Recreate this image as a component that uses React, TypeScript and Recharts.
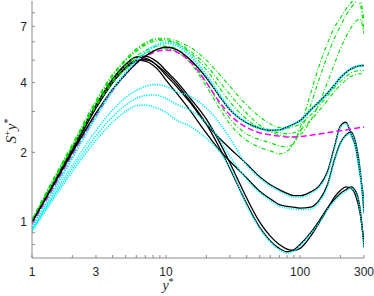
import { LineChart, Line, XAxis, YAxis } from 'recharts';

// y* sample positions (shared by every profile)
const yStar = [1, 1.5, 2, 3, 4, 5, 6, 7, 8, 9, 10, 12, 15, 20, 25, 30, 40, 50, 60, 70, 80, 90, 100, 120, 140, 160, 180, 200, 220, 240, 260, 280, 300];

// green dash-dot family
const g1 = [1.0, 1.55, 2.1, 3.15, 4.0, 4.6, 5.05, 5.35, 5.52, 5.6, 5.6, 5.45, 4.9, 3.85, 3.1, 2.65, 2.25, 2.1, 2.03, 1.97, 2.02, 2.2, 2.55, 3.6, 4.8, 5.9, 6.9, 7.6, 8.3, 8.85, 9.3, 8.8, 6.6];
const g2 = [1.01, 1.56, 2.1, 3.2, 4.1, 4.75, 5.2, 5.5, 5.68, 5.75, 5.75, 5.6, 5.05, 4.0, 3.25, 2.8, 2.4, 2.27, 2.2, 2.13, 2.11, 2.2, 2.45, 3.2, 4.2, 5.2, 6.2, 7.0, 7.8, 8.4, 8.9, 9.1, 7.4];
const g3 = [1.02, 1.58, 2.13, 3.28, 4.25, 4.95, 5.45, 5.8, 6.0, 6.07, 6.05, 5.9, 5.4, 4.55, 3.8, 3.3, 2.78, 2.55, 2.45, 2.38, 2.34, 2.33, 2.38, 2.75, 3.3, 4.0, 4.8, 5.6, 6.3, 6.9, 7.35, 7.5, 6.5];
const g4 = [1.02, 1.59, 2.15, 3.3, 4.3, 5.0, 5.52, 5.88, 6.08, 6.15, 6.12, 5.95, 5.5, 4.75, 4.05, 3.55, 2.95, 2.62, 2.48, 2.43, 2.41, 2.43, 2.5, 2.75, 3.05, 3.35, 3.65, 3.9, 4.1, 4.25, 4.33, 4.37, 4.36];
const g5 = [1.03, 1.6, 2.17, 3.35, 4.35, 5.05, 5.6, 5.95, 6.15, 6.22, 6.2, 6.05, 5.7, 5.0, 4.35, 3.85, 3.2, 2.85, 2.65, 2.56, 2.55, 2.58, 2.65, 2.9, 3.2, 3.5, 3.8, 4.05, 4.25, 4.4, 4.48, 4.52, 4.5];

// black solid family
const l1 = [1.0, 1.52, 2.05, 3.12, 4.0, 4.6, 4.95, 5.02, 4.9, 4.6, 4.3, 3.85, 3.3, 2.65, 2.3, 2.08, 1.78, 1.57, 1.45, 1.38, 1.33, 1.3, 1.3, 1.35, 1.44, 1.65, 2.1, 2.6, 2.7, 2.4, 2.1, 1.62, 1.25];
const l2 = [1.0, 1.51, 2.03, 3.1, 4.0, 4.65, 5.0, 4.95, 4.75, 4.45, 4.1, 3.6, 3.05, 2.42, 2.05, 1.83, 1.55, 1.36, 1.26, 1.19, 1.17, 1.16, 1.15, 1.16, 1.25, 1.45, 1.85, 2.2, 2.38, 2.45, 2.2, 1.7, 1.1];
const l3 = [1.0, 1.53, 2.07, 3.18, 4.1, 4.75, 5.15, 5.2, 5.05, 4.8, 4.5, 4.05, 3.45, 2.78, 2.22, 1.8, 1.27, 1.0, 0.87, 0.8, 0.765, 0.755, 0.77, 0.87, 1.0, 1.14, 1.28, 1.37, 1.42, 1.4, 1.3, 1.1, 0.82];
const l4 = [1.0, 1.53, 2.08, 3.2, 4.15, 4.8, 5.15, 5.1, 4.9, 4.65, 4.4, 3.95, 3.35, 2.65, 2.1, 1.7, 1.2, 0.95, 0.83, 0.77, 0.745, 0.76, 0.8, 0.9, 1.02, 1.15, 1.25, 1.33, 1.38, 1.42, 1.36, 1.15, 0.78];
const upper = [1.0, 1.5, 2.0, 2.95, 3.75, 4.35, 4.85, 5.2, 5.45, 5.62, 5.68, 5.55, 5.05, 4.2, 3.5, 3.05, 2.68, 2.54, 2.49, 2.5, 2.57, 2.65, 2.74, 3.05, 3.32, 3.6, 3.9, 4.2, 4.42, 4.58, 4.68, 4.73, 4.74];

// cyan dotted family
const c1 = [0.93, 1.36, 1.76, 2.48, 3.05, 3.45, 3.7, 3.85, 3.92, 3.91, 3.85, 3.65, 3.5, 3.1, 2.68, 2.3, 1.76, 1.55, 1.43, 1.36, 1.31, 1.28, 1.28, 1.33, 1.42, 1.62, 2.06, 2.56, 2.66, 2.37, 2.07, 1.6, 1.23];
const c2 = [0.92, 1.33, 1.7, 2.35, 2.85, 3.2, 3.42, 3.52, 3.54, 3.5, 3.42, 3.22, 3.05, 2.68, 2.27, 1.92, 1.53, 1.34, 1.24, 1.17, 1.15, 1.14, 1.13, 1.14, 1.23, 1.42, 1.82, 2.17, 2.35, 2.41, 2.17, 1.67, 1.08];
const c3 = [0.91, 1.3, 1.65, 2.25, 2.7, 3.0, 3.18, 3.2, 3.15, 3.07, 2.97, 2.75, 2.6, 2.3, 2.02, 1.72, 1.18, 0.94, 0.82, 0.76, 0.735, 0.75, 0.79, 0.89, 1.0, 1.13, 1.23, 1.31, 1.36, 1.4, 1.34, 1.13, 0.77];
const cUpper = [0.95, 1.42, 1.9, 2.85, 3.72, 4.42, 4.98, 5.4, 5.7, 5.87, 5.93, 5.8, 5.25, 4.3, 3.55, 3.08, 2.68, 2.54, 2.49, 2.5, 2.57, 2.65, 2.74, 3.05, 3.32, 3.6, 3.9, 4.2, 4.42, 4.58, 4.68, 4.73, 4.74];

// magenta dashed reference
const model = [0.98, 1.46, 1.95, 2.88, 3.7, 4.35, 4.85, 5.18, 5.38, 5.5, 5.53, 5.42, 4.95, 4.0, 3.3, 2.9, 2.56, 2.43, 2.38, 2.35, 2.33, 2.33, 2.34, 2.37, 2.4, 2.43, 2.46, 2.48, 2.5, 2.52, 2.54, 2.56, 2.57];

const xTicks = [1, 2, 3, 4, 5, 6, 7, 8, 9, 10, 20, 30, 40, 50, 60, 70, 80, 90, 100, 200, 300];
const xLabels = [1, 3, 10, 100, 300];
const yTicks = [0.8, 0.9, 1, 2, 3, 4, 5, 6, 7, 8];
const yLabels = [1, 2, 4, 7];

const data = yStar.map((x, i) => ({
  x,
  g1: g1[i], g2: g2[i], g3: g3[i], g4: g4[i], g5: g5[i],
  l1: l1[i], l2: l2[i], l3: l3[i], l4: l4[i], upper: upper[i],
  c1: c1[i], c2: c2[i], c3: c3[i], cUpper: cUpper[i],
  model: model[i],
}));

const GREEN = '#00e000';
const CYAN = '#00f0f0';
const AXIS = '#8a8a8a';
const TXT = '#262626';
const FONT = '"Liberation Sans", Arial, sans-serif';
const SERIF = '"Liberation Serif", "Times New Roman", serif';

const series = [
  { key: 'l1', color: '#000', width: 1.3 },
  { key: 'l2', color: '#000', width: 1.3 },
  { key: 'l3', color: '#000', width: 1.3 },
  { key: 'l4', color: '#000', width: 1.3 },
  { key: 'c1', color: CYAN, width: 1.6, dash: '1.2 1.2' },
  { key: 'c2', color: CYAN, width: 1.6, dash: '1.2 1.2' },
  { key: 'c3', color: CYAN, width: 1.6, dash: '1.2 1.2' },
  { key: 'g1', color: GREEN, width: 1.1, dash: '4 2 1 2' },
  { key: 'g2', color: GREEN, width: 1.1, dash: '4 2 1 2' },
  { key: 'g3', color: GREEN, width: 1.1, dash: '4 2 1 2' },
  { key: 'g4', color: GREEN, width: 1.1, dash: '4 2 1 2' },
  { key: 'g5', color: GREEN, width: 1.1, dash: '4 2 1 2' },
  { key: 'model', color: '#ff00ff', width: 1.5, dash: '6 3' },
  { key: 'upper', color: '#000', width: 1.4 },
  { key: 'cUpper', color: CYAN, width: 2.6, dash: '1.3 1.3' },
];

function BottomTick({ x, y, payload }: any) {
  const v = payload.value;
  return (
    <g>
      <line x1={x} x2={x} y1={y} y2={y - 3} stroke={AXIS} />
      {xLabels.includes(v) && (
        <text x={x} y={y + 17.5} textAnchor="middle" fontSize={12} fill={TXT} fontFamily={FONT}>{v}</text>
      )}
    </g>
  );
}

function TopTick({ x, y }: any) {
  return <line x1={x} x2={x} y1={y} y2={y + 3} stroke={AXIS} />;
}

function LeftTick({ x, y, payload }: any) {
  const v = payload.value;
  return (
    <g>
      <line x1={x} x2={x + 3} y1={y} y2={y} stroke={AXIS} />
      {yLabels.includes(v) && (
        <text x={x - 5} y={y + 4.3} textAnchor="end" fontSize={12} fill={TXT} fontFamily={FONT}>{v}</text>
      )}
    </g>
  );
}

function RightTick({ x, y }: any) {
  return <line x1={x} x2={x - 3} y1={y} y2={y} stroke={AXIS} />;
}

const xTitle = () => (
  <text x={168} y={290} textAnchor="middle" fontSize={14} fill={TXT} fontFamily={SERIF} fontStyle="italic">
    y<tspan fontSize={10} dy={-5} fontStyle="normal">*</tspan>
  </text>
);

const yTitle = () => (
  <text x={16} y={131} transform="rotate(-90 16 131)" textAnchor="middle" fontSize={15} fill={TXT} fontFamily={SERIF}>
    <tspan fontStyle="italic">S</tspan>
    <tspan fontSize={10} dy={-5}>+</tspan>
    <tspan fontStyle="italic" dy={5}>y</tspan>
    <tspan fontSize={10} dy={-5}>*</tspan>
  </text>
);

export default function App() {
  return (
    <div style={{ position: 'absolute', left: 0, top: 0 }}>
      <LineChart width={374} height={296} data={data} margin={{ top: 1, right: 10, bottom: 0, left: 0 }}>
        <XAxis
          dataKey="x" type="number" scale="log" domain={[1, 300]} allowDataOverflow
          ticks={xTicks} interval={0} tickSize={0} tickMargin={0} tickLine={false}
          height={38} stroke={AXIS} tick={<BottomTick />} label={xTitle}
        />
        <XAxis
          xAxisId="top" orientation="top" dataKey="x" type="number" scale="log" domain={[1, 300]} allowDataOverflow
          ticks={xTicks} interval={0} tickSize={0} tickMargin={0} tickLine={false}
          height={0} stroke={AXIS} tick={<TopTick />}
        />
        <YAxis
          type="number" scale="log" domain={[0.7, 9]} allowDataOverflow
          ticks={yTicks} interval={0} tickSize={0} tickMargin={0} tickLine={false}
          width={32} stroke={AXIS} tick={<LeftTick />} label={yTitle}
        />
        <YAxis
          yAxisId="right" orientation="right" type="number" scale="log" domain={[0.7, 9]} allowDataOverflow
          ticks={yTicks} interval={0} tickSize={0} tickMargin={0} tickLine={false}
          width={0} stroke={AXIS} tick={<RightTick />}
        />
        {series.map(s => (
          <Line
            key={s.key}
            type="monotone"
            dataKey={s.key}
            stroke={s.color}
            strokeWidth={s.width}
            strokeDasharray={s.dash}
            dot={false}
            activeDot={false}
            isAnimationActive={false}
          />
        ))}
      </LineChart>
    </div>
  );
}
